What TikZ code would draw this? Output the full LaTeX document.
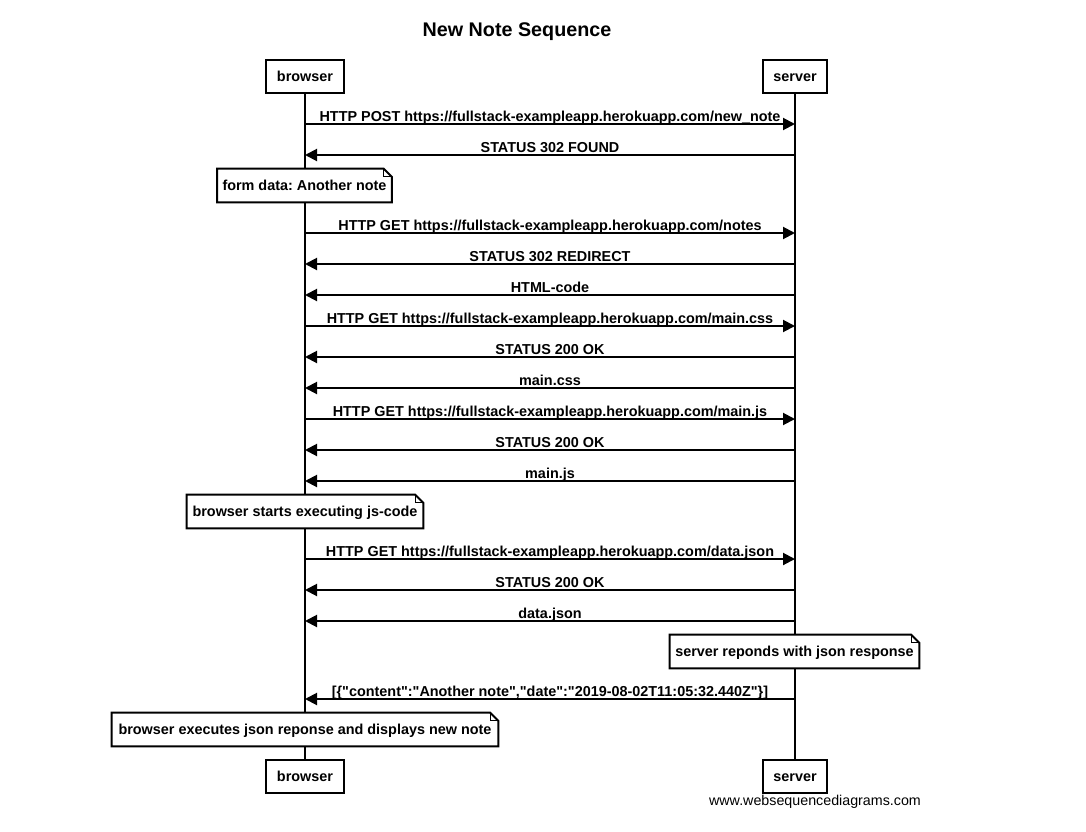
\documentclass[tikz,border=0pt]{standalone}
\usepackage{fontspec}
\setmainfont{Liberation Sans}
\usetikzlibrary{arrows.meta}
\frenchspacing
\newcommand\notefold[1]{%
  \draw[notefold] (#1.north west) -- ([xshift=-6pt]#1.north east) -- ([yshift=-6pt]#1.north east) -- (#1.south east) -- (#1.south west) -- cycle;
  \draw[line width=0.75pt] ([xshift=-6pt]#1.north east) |- ([yshift=-6pt]#1.north east);}
\newcommand\dq{\textquotedbl}
\begin{document}
\begin{tikzpicture}[x=0.75pt,y=-0.75pt,
  lblfont/.style={font=\bfseries\fontsize{10.8}{12}\selectfont},
  actor/.style={draw, line width=1.5pt, fill=white, minimum height=24.75pt, inner xsep=8pt, text height=8.9pt, text depth=1.1pt, lblfont},
  life/.style={line width=1.5pt},
  msg/.style={line width=1.5pt, -{Triangle[length=9pt,width=9pt]}},
  lbl/.style={anchor=base, inner sep=0pt, lblfont},
  notebox/.style={fill=white, minimum height=24.75pt, inner xsep=3.75pt, text height=9.1pt, text depth=0.9pt, lblfont},
  notefold/.style={line width=1.5pt, line join=miter}]
\useasboundingbox (0,0) rectangle (1086,832);

\node[font=\bfseries\fontsize{14.8}{17}\selectfont] (title) at (517,31.5) {New Note Sequence};

% lifelines (drawn between actor positions, then actors drawn on top)
\coordinate (bt0) at (305,93);
\coordinate (bb0) at (305,760);
\coordinate (st0) at (795,93);
\coordinate (sb0) at (795,760);
\draw[life] (bt0) -- (bb0);
\draw[life] (st0) -- (sb0);

% actors
\node[actor] (bt) at (305,76.5) {browser};
\node[actor] (st) at (795,76.5) {server};
\node[actor] (bb) at (305,776.5) {browser};
\node[actor] (sb) at (795,776.5) {server};

% message coordinates
\foreach \i/\y in {1/124,2/155,3/233,4/264,5/295,6/326,7/357,8/388,9/419,10/450,11/481,12/559,13/590,14/621,15/699}{
  \coordinate (b\i) at (305,\y);
  \coordinate (s\i) at (795,\y);
  \coordinate (m\i) at (550,\y-3);
}

\draw[msg] (b1) -- (s1);  \node[lbl] at (m1) {HTTP POST https://fullstack-exampleapp.herokuapp.com/new\_note};
\draw[msg] (s2) -- (b2);  \node[lbl] at (m2) {STATUS 302 FOUND};
\draw[msg] (b3) -- (s3);  \node[lbl] at (m3) {HTTP GET https://fullstack-exampleapp.herokuapp.com/notes};
\draw[msg] (s4) -- (b4);  \node[lbl] at (m4) {STATUS 302 REDIRECT};
\draw[msg] (s5) -- (b5);  \node[lbl] at (m5) {HTML-code};
\draw[msg] (b6) -- (s6);  \node[lbl] at (m6) {HTTP GET https://fullstack-exampleapp.herokuapp.com/main.css};
\draw[msg] (s7) -- (b7);  \node[lbl] at (m7) {STATUS 200 OK};
\draw[msg] (s8) -- (b8);  \node[lbl] at (m8) {main.css};
\draw[msg] (b9) -- (s9);  \node[lbl] at (m9) {HTTP GET https://fullstack-exampleapp.herokuapp.com/main.js};
\draw[msg] (s10) -- (b10); \node[lbl] at (m10) {STATUS 200 OK};
\draw[msg] (s11) -- (b11); \node[lbl] at (m11) {main.js};
\draw[msg] (b12) -- (s12); \node[lbl] at (m12) {HTTP GET https://fullstack-exampleapp.herokuapp.com/data.json};
\draw[msg] (s13) -- (b13); \node[lbl] at (m13) {STATUS 200 OK};
\draw[msg] (s14) -- (b14); \node[lbl] at (m14) {data.json};
\draw[msg] (s15) -- (b15); \node[lbl] at (m15) {[\{\dq content\dq:\dq Another note\dq,\dq date\dq:\dq 2019-08-02T11:05:32.440Z\dq\}]};

% notes
\node[notebox, minimum width=129.75pt] (n1) at (304.5,185.5) {form data: Another note};
\notefold{n1}
\node[notebox, minimum width=177pt] (n2) at (305,511.5) {browser starts executing js-code};
\notefold{n2}
\node[notebox, minimum width=186.75pt] (n3) at (794.5,651.5) {server reponds with json response};
\notefold{n3}
\node[notebox, minimum width=289.5pt] (n4) at (305,729.5) {browser executes json reponse and displays new note};
\notefold{n4}

\node[font=\fontsize{10.7}{12}\selectfont, inner sep=0pt] (foot) at (815,802) {www.websequencediagrams.com};
\end{tikzpicture}
\end{document}
